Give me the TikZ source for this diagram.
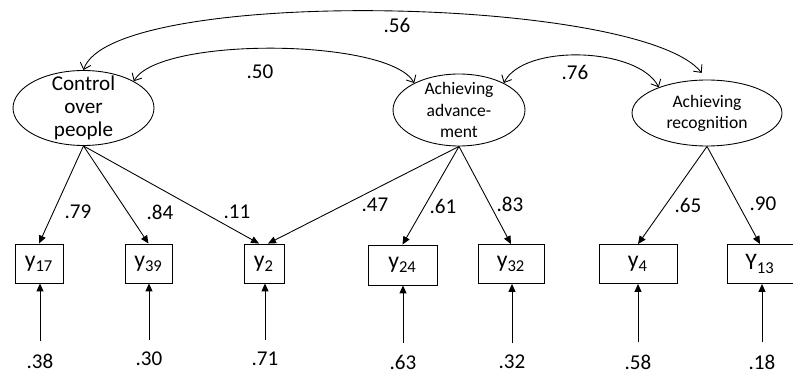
\documentclass[tikz,border=0pt]{standalone}
\usepackage{fontspec}
\setmainfont{Carlito}
\usepackage{tikz}
\usetikzlibrary{arrows.meta,shapes.geometric}

\begin{document}
\begin{tikzpicture}[
  x=0.02cm,
  y=0.02cm,
  line width=0.5pt,
  latent/.style={draw,ellipse,inner sep=0pt},
  ltxt/.style={align=center,inner sep=0pt},
  obs/.style={draw,rectangle,minimum height=0.78cm,inner sep=0pt,font=\fontsize{13.5}{15}\selectfont},
  num/.style={font=\fontsize{12}{14}\selectfont},
  loadarr/.style={-{Triangle[length=1.6mm,width=1.4mm]}},
  errarr/.style={-{Triangle[length=1.6mm,width=1.4mm]},shorten <=0.12cm},
  covarr/.style={{Straight Barb[length=1.2mm,width=2.2mm]}-{Straight Barb[length=1.2mm,width=2.2mm]}}
]
  \useasboundingbox (0,0) rectangle (793,372);

  % latent factors
  \node[latent,minimum width=2.82cm,minimum height=1.5cm,
    label={[ltxt,font=\fontsize{12}{13}\selectfont]center:{Control\\over\\people}}] (ctrl) at (83.5,264) {};
  \node[latent,minimum width=2.64cm,minimum height=1.44cm,
    label={[ltxt,font=\fontsize{10}{12}\selectfont]center:{Achieving\\advance-\\ment}}] (adv) at (459,262) {};
  \node[latent,minimum width=3.0cm,minimum height=1.32cm,
    label={[ltxt,font=\fontsize{10}{12}\selectfont]center:{Achieving\\recognition}}] (recog) at (707,259) {};

  % indicators
  \node[obs,minimum width=0.96cm] (y17) at (39,108.5) {y\textsubscript{17}};
  \node[obs,minimum width=0.94cm] (y39) at (148.5,108.5) {y\textsubscript{39}};
  \node[obs,minimum width=0.8cm] (y2) at (264,108.5) {y\textsubscript{2}};
  \node[obs,minimum width=1.38cm,minimum height=0.8cm] (y24) at (402.5,107) {y\textsubscript{24}};
  \node[obs,minimum width=1.32cm] (y32) at (511,108) {y\textsubscript{32}};
  \node[obs,minimum width=1.56cm] (y4) at (638,108) {y\textsubscript{4}};
  \node[obs,minimum width=1.32cm] (y13) at (760,108) {Y\textsubscript{13}};

  % covariances
  \draw[covarr,shorten >=0.17cm] (ctrl.north) .. controls +(27,84) and +(-67,84) .. (recog.north);
  \draw[covarr] (ctrl.28) .. controls +(25,45) and +(-25,45) .. (adv.149);
  \draw[covarr] (adv.31) .. controls +(20,40) and +(-20,40) .. (recog.152);
  \node[num] (c56) at (397,347) {.56};
  \node[num] (c50) at (260,300) {.50};
  \node[num] (c76) at (575,300) {.76};

  % loadings
  \draw[loadarr] (ctrl.south) -- (y17.north);
  \draw[loadarr] (ctrl.south) -- (y39.north);
  \draw[loadarr] (ctrl.south) -- ([xshift=-0.1cm]y2.north);
  \draw[loadarr] (adv.south) -- ([xshift=0.08cm]y2.north);
  \draw[loadarr] (adv.south) -- (y24.north);
  \draw[loadarr] (adv.south) -- (y32.north);
  \draw[loadarr] (recog.south) -- (y4.north);
  \draw[loadarr] (recog.south) -- (y13.north);
  \node[num] (l79) at (78,160) {.79};
  \node[num] (l84) at (160,160) {.84};
  \node[num] (l11) at (237,160) {.11};
  \node[num] (l47) at (375,167) {.47};
  \node[num] (l61) at (443,166) {.61};
  \node[num] (l83) at (510,168) {.83};
  \node[num] (l65) at (688,167) {.65};
  \node[num] (l90) at (763,168) {.90};

  % errors
  \node[num] (e38) at (40,11) {.38};
  \node[num] (e30) at (149,13) {.30};
  \node[num] (e71) at (265,13) {.71};
  \node[num] (e63) at (403,10) {.63};
  \node[num] (e32) at (512,10) {.32};
  \node[num] (e58) at (638,10) {.58};
  \node[num] (e18) at (762,10) {.18};
  \draw[errarr] (e38) -- (e38 |- y17.south);
  \draw[errarr] (e30) -- (e30 |- y39.south);
  \draw[errarr] (e71) -- (e71 |- y2.south);
  \draw[errarr] (e63) -- (e63 |- y24.south);
  \draw[errarr] (e32) -- (e32 |- y32.south);
  \draw[errarr] (e58) -- (e58 |- y4.south);
  \draw[errarr] (e18) -- (e18 |- y13.south);
\end{tikzpicture}
\end{document}
